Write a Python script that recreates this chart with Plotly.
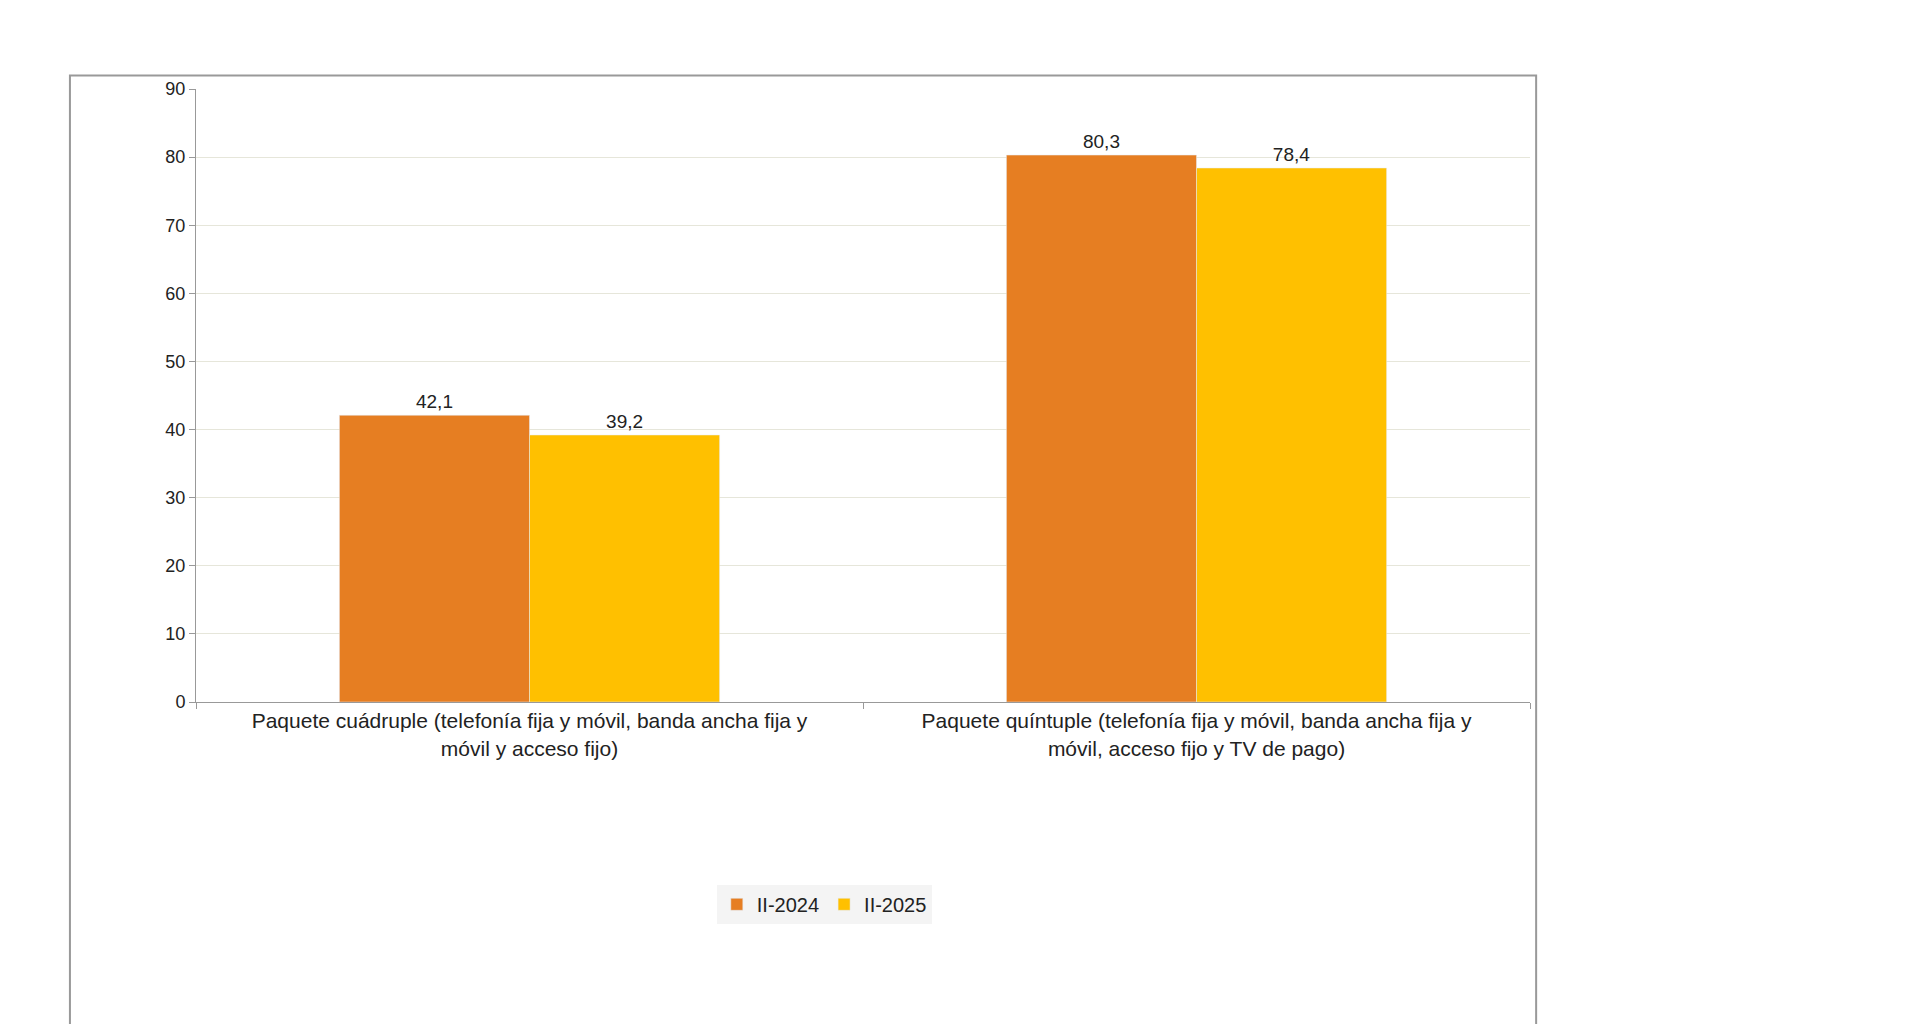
import plotly.graph_objects as go

categories = ["Paquete cuádruple (telefonía fija y móvil, banda ancha fija y<br>móvil y acceso fijo)",
              "Paquete quíntuple (telefonía fija y móvil, banda ancha fija y<br>móvil, acceso fijo y TV de pago)"]
series_names = ["II-2024", "II-2025"]
values_2024 = [42.1, 80.3]
values_2025 = [39.2, 78.4]
colors = ["#E67E22", "#FFC000"]

fig = go.Figure()
for name, vals, col in zip(series_names, [values_2024, values_2025], colors):
    fig.add_trace(go.Bar(x=categories, y=vals, name=name, marker_color=col,
                         text=[f"{v:.1f}".replace(".", ",") for v in vals],
                         textposition="outside", cliponaxis=False,
                         textfont=dict(size=19, color="#222")))

fig.update_layout(
    width=1920, height=1024, paper_bgcolor="white", plot_bgcolor="white",
    margin=dict(l=188, r=398, t=81, b=330),
    barmode="group", bargap=0.43, bargroupgap=0,
    font=dict(family="Liberation Sans, Arial", size=18, color="#222"),
    legend=dict(orientation="h", x=0.471, y=-0.33, xanchor="center", yanchor="middle",
                bgcolor="#F4F4F4", font=dict(size=20)),
    yaxis=dict(range=[0, 90], dtick=10, gridcolor="#E6E6DA", showline=True,
               linecolor="#999", ticks="outside", ticklen=6, tickcolor="#999", zeroline=False),
    xaxis=dict(showline=True, linecolor="#999", ticks="outside", ticklen=6, tickcolor="#999",
               tickson="boundaries", tickfont=dict(size=21)),
    shapes=[dict(type="rect", xref="paper", yref="paper",
                 x0=-0.0945, x1=1.0046, y0=-0.7, y1=1.022,
                 line=dict(color="#999", width=2), fillcolor="rgba(0,0,0,0)")],
)
fig.write_html("out.html")
